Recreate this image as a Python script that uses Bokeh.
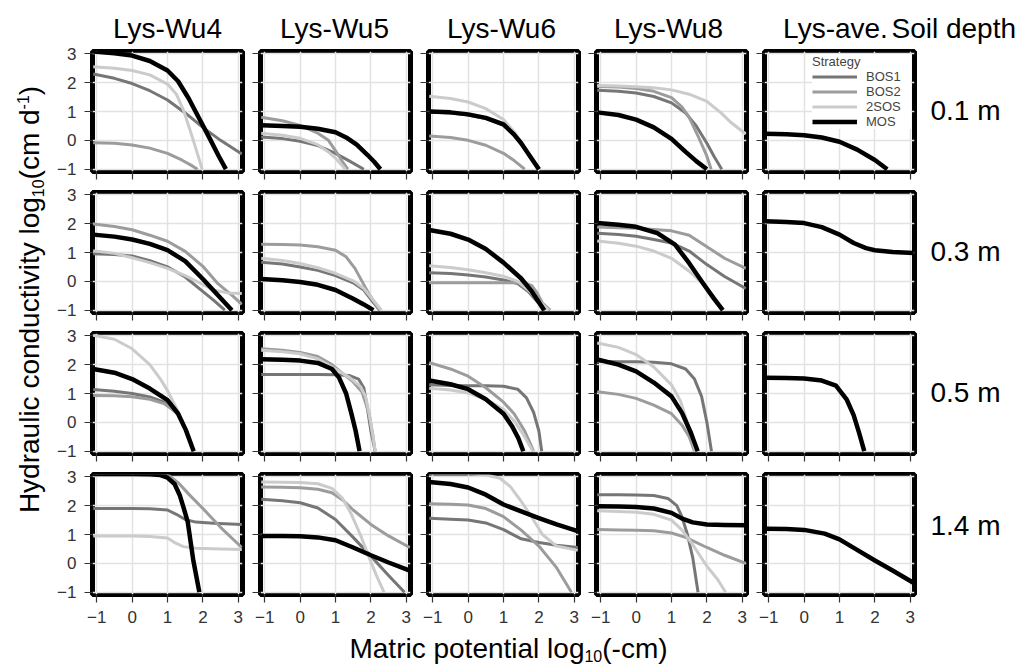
from math import pi

from bokeh.core.properties import value
from bokeh.embed import file_html
from bokeh.layouts import column, row
from bokeh.models import (ColumnDataSource, CustomLabelingPolicy, FixedTicker, Legend,
                          LegendItem, Range1d)
from bokeh.plotting import figure
from bokeh.resources import INLINE

# ---------------------------------------------------------------------------
# Facets, strategies and ticks
# ---------------------------------------------------------------------------
sites = ["Lys-Wu4", "Lys-Wu5", "Lys-Wu6", "Lys-Wu8", "Lys-ave."]
depths = ["0.1 m", "0.3 m", "0.5 m", "1.4 m"]
strategies = ["BOS1", "BOS2", "2SOS", "MOS"]
x_ticks = [-1, 0, 1, 2, 3]
y_ticks = [-1, 0, 1, 2, 3]
tick_text = {-1: "\u22121", 0: "0", 1: "1", 2: "2", 3: "3"}

# ---------------------------------------------------------------------------
# Conductivity curves: (log10 matric potential, log10 K) pairs
# ---------------------------------------------------------------------------
# depth 0.1 m
wu4_d01_bos1 = [(-1.1, 2.30), (-0.5, 2.15), (0, 1.97), (0.5, 1.72), (1.0, 1.40), (1.5, 0.95), (2.0, 0.45), (2.5, 0.00), (3.1, -0.47)]
wu4_d01_bos2 = [(-1.1, -0.08), (-0.5, -0.10), (0, -0.16), (0.5, -0.27), (1.0, -0.45), (1.4, -0.68), (1.65, -0.85), (1.85, -1.0)]
wu4_d01_2sos = [(-1.1, 2.55), (-0.5, 2.50), (0, 2.42), (0.5, 2.27), (1.0, 1.95), (1.25, 1.60), (1.45, 1.05), (1.6, 0.50), (1.73, 0.00), (1.88, -0.60), (1.98, -1.0)]
wu4_d01_mos = [(-1.1, 3.08), (-0.5, 3.02), (0, 2.94), (0.5, 2.75), (1.0, 2.42), (1.3, 2.05), (1.6, 1.45), (1.9, 0.75), (2.2, 0.05), (2.45, -0.55), (2.65, -1.0)]

wu5_d01_bos1 = [(-1.1, 0.12), (-0.5, 0.06), (0, -0.03), (0.5, -0.18), (1.0, -0.45), (1.4, -0.72), (1.8, -1.0)]
wu5_d01_bos2 = [(-1.1, 0.80), (-0.5, 0.68), (0, 0.52), (0.5, 0.25), (0.8, 0.00), (1.05, -0.45), (1.2, -0.75), (1.35, -1.0)]
wu5_d01_2sos = [(-1.1, 0.25), (-0.5, 0.18), (0, 0.07), (0.5, -0.15), (0.8, -0.40), (1.0, -0.62), (1.28, -1.0)]
wu5_d01_mos = [(-1.1, 0.52), (-0.5, 0.50), (0, 0.47), (0.5, 0.40), (1.0, 0.28), (1.3, 0.10), (1.6, -0.15), (1.9, -0.50), (2.1, -0.75), (2.27, -1.0)]

wu6_d01_bos1 = [(-1.1, 0.98), (-0.5, 0.95), (0, 0.88), (0.5, 0.76), (1.0, 0.52), (1.3, 0.18), (1.5, -0.12), (1.75, -0.55), (2.02, -1.0)]
wu6_d01_bos2 = [(-1.1, 0.15), (-0.5, 0.10), (0, 0.00), (0.5, -0.17), (1.0, -0.45), (1.3, -0.70), (1.6, -1.0)]
wu6_d01_2sos = [(-1.1, 1.53), (-0.5, 1.45), (0, 1.33), (0.5, 1.10), (1.0, 0.72), (1.3, 0.30), (1.55, -0.15), (1.8, -0.65), (1.97, -1.0)]
wu6_d01_mos = [(-1.1, 1.00), (-0.5, 0.97), (0, 0.90), (0.5, 0.78), (1.0, 0.55), (1.3, 0.20), (1.5, -0.10), (1.75, -0.55), (2.0, -1.0)]

wu8_d01_bos1 = [(-1.1, 1.74), (-0.5, 1.70), (0, 1.64), (0.5, 1.52), (1.0, 1.30), (1.4, 0.95), (1.7, 0.50), (2.0, -0.10), (2.2, -0.55), (2.42, -1.0)]
wu8_d01_bos2 = [(-1.1, 1.87), (-0.5, 1.85), (0, 1.80), (0.5, 1.70), (1.0, 1.48), (1.3, 1.15), (1.5, 0.80), (1.75, 0.15), (2.0, -0.55), (2.12, -1.0)]
wu8_d01_2sos = [(-1.1, 1.90), (-0.5, 1.88), (0, 1.86), (0.5, 1.82), (1.0, 1.75), (1.5, 1.60), (2.0, 1.35), (2.4, 0.95), (2.7, 0.60), (3.1, 0.22)]
wu8_d01_mos = [(-1.1, 0.97), (-0.5, 0.88), (0, 0.72), (0.5, 0.45), (1.0, 0.05), (1.4, -0.40), (1.7, -0.72), (2.0, -1.0)]

ave_d01_mos = [(-1.1, 0.23), (-0.5, 0.21), (0, 0.18), (0.5, 0.10), (1.0, -0.05), (1.5, -0.32), (2.0, -0.68), (2.35, -1.0)]

# depth 0.3 m
wu4_d03_bos1 = [(-1.1, 0.96), (-0.5, 0.93), (0, 0.88), (0.5, 0.72), (1.0, 0.50), (1.5, 0.15), (1.9, -0.25), (2.3, -0.65), (2.62, -1.0)]
wu4_d03_bos2 = [(-1.1, 1.99), (-0.5, 1.90), (0, 1.79), (0.5, 1.60), (1.0, 1.39), (1.5, 1.04), (2.0, 0.52), (2.4, -0.05), (2.85, -0.51), (3.1, -0.80)]
wu4_d03_2sos = [(-1.1, 1.06), (-0.5, 0.97), (0, 0.82), (0.5, 0.65), (1.0, 0.45), (1.5, 0.20), (1.9, -0.05), (2.3, -0.30), (2.7, -0.40), (3.1, -0.42)]
wu4_d03_mos = [(-1.1, 1.62), (-0.5, 1.55), (0, 1.45), (0.5, 1.30), (1.0, 1.08), (1.5, 0.70), (2.0, 0.08), (2.4, -0.45), (2.82, -1.0)]

wu5_d03_bos1 = [(-1.1, 0.66), (-0.5, 0.60), (0, 0.50), (0.5, 0.38), (1.0, 0.20), (1.5, -0.05), (1.8, -0.30), (2.05, -0.70), (2.25, -1.0)]
wu5_d03_bos2 = [(-1.1, 1.29), (-0.5, 1.28), (0, 1.26), (0.5, 1.20), (1.0, 1.08), (1.3, 0.85), (1.55, 0.45), (1.75, 0.00), (1.95, -0.45), (2.25, -1.0)]
wu5_d03_2sos = [(-1.1, 0.80), (-0.5, 0.72), (0, 0.62), (0.5, 0.47), (1.0, 0.28), (1.5, 0.02), (1.8, -0.25), (2.1, -0.70), (2.3, -1.0)]
wu5_d03_mos = [(-1.1, 0.08), (-0.5, 0.04), (0, -0.02), (0.5, -0.12), (1.0, -0.30), (1.5, -0.60), (1.8, -0.80), (2.07, -1.0)]

wu6_d03_bos1 = [(-1.1, 0.30), (-0.5, 0.27), (0, 0.22), (0.5, 0.15), (1.0, 0.05), (1.4, -0.08), (1.7, -0.35), (1.95, -0.70), (2.18, -1.0)]
wu6_d03_bos2 = [(-1.1, -0.05), (-0.5, -0.05), (0, -0.05), (0.5, -0.05), (1.0, -0.05), (1.4, -0.05), (1.6, -0.05), (1.8, -0.15), (1.95, -0.40), (2.1, -0.75), (2.32, -1.0)]
wu6_d03_2sos = [(-1.1, 0.54), (-0.5, 0.48), (0, 0.40), (0.5, 0.30), (1.0, 0.18), (1.4, 0.00), (1.7, -0.30), (1.95, -0.62), (2.28, -1.0)]
wu6_d03_mos = [(-1.1, 1.78), (-0.5, 1.65), (0, 1.45), (0.5, 1.12), (1.0, 0.65), (1.5, 0.10), (1.8, -0.35), (2.15, -1.0)]

wu8_d03_bos1 = [(-1.1, 1.67), (-0.5, 1.62), (0, 1.56), (0.5, 1.45), (1.0, 1.33), (1.5, 1.05), (2.0, 0.58), (2.5, 0.17), (3.1, -0.25)]
wu8_d03_bos2 = [(-1.1, 1.88), (-0.5, 1.86), (0, 1.84), (0.5, 1.80), (1.0, 1.75), (1.5, 1.60), (2.0, 1.20), (2.5, 0.80), (3.1, 0.45)]
wu8_d03_2sos = [(-1.1, 1.40), (-0.5, 1.32), (0, 1.22), (0.5, 1.05), (1.0, 0.80), (1.5, 0.35), (1.9, -0.10), (2.2, -0.55), (2.45, -1.0)]
wu8_d03_mos = [(-1.1, 2.02), (-0.5, 1.96), (0, 1.89), (0.6, 1.67), (1.1, 1.27), (1.5, 0.63), (1.88, -0.05), (2.2, -0.60), (2.45, -1.0)]

ave_d03_mos = [(-1.1, 2.08), (-0.5, 2.06), (0, 2.02), (0.5, 1.88), (1.0, 1.62), (1.4, 1.33), (1.75, 1.15), (2.0, 1.08), (2.5, 1.02), (3.1, 0.98)]

# depth 0.5 m
wu4_d05_bos1 = [(-1.1, 1.14), (-0.5, 1.08), (0, 1.00), (0.5, 0.88), (0.9, 0.70), (1.1, 0.50), (1.3, 0.28), (1.52, -0.27), (1.74, -1.0)]
wu4_d05_bos2 = [(-1.1, 0.93), (-0.5, 0.92), (0, 0.89), (0.5, 0.80), (0.9, 0.65), (1.1, 0.48), (1.3, 0.28), (1.52, -0.27), (1.74, -1.0)]
wu4_d05_2sos = [(-1.1, 3.02), (-0.5, 2.88), (0, 2.55), (0.5, 2.00), (0.8, 1.50), (1.0, 1.10), (1.25, 0.50), (1.5, -0.20), (1.74, -1.0)]
wu4_d05_mos = [(-1.1, 1.85), (-0.5, 1.72), (0, 1.50), (0.5, 1.17), (1.0, 0.77), (1.3, 0.30), (1.52, -0.27), (1.74, -1.0)]

wu5_d05_bos1 = [(-1.1, 1.66), (-0.5, 1.66), (0, 1.66), (0.5, 1.66), (1.0, 1.65), (1.4, 1.62), (1.65, 1.50), (1.8, 1.20), (1.9, 0.50), (2.0, -0.30), (2.12, -1.0)]
wu5_d05_bos2 = [(-1.1, 2.55), (-0.5, 2.50), (0, 2.42), (0.5, 2.28), (0.9, 2.00), (1.2, 1.70), (1.5, 1.40), (1.75, 1.05), (1.95, 0.30), (2.05, -0.40), (2.12, -1.0)]
wu5_d05_2sos = [(-1.1, 2.50), (-0.5, 2.45), (0, 2.38), (0.5, 2.20), (1.0, 1.85), (1.4, 1.55), (1.7, 1.25), (1.85, 0.90), (1.95, 0.30), (2.05, -0.40), (2.12, -1.0)]
wu5_d05_mos = [(-1.1, 2.19), (-0.5, 2.17), (0, 2.14), (0.5, 2.06), (0.9, 1.85), (1.1, 1.55), (1.3, 1.00), (1.45, 0.30), (1.57, -0.30), (1.68, -1.0)]

wu6_d05_bos1 = [(-1.1, 1.30), (-0.5, 1.28), (0, 1.27), (0.5, 1.27), (1.0, 1.25), (1.4, 1.15), (1.65, 0.85), (1.85, 0.35), (2.0, -0.30), (2.08, -1.0)]
wu6_d05_bos2 = [(-1.1, 2.07), (-0.5, 1.85), (0, 1.60), (0.5, 1.20), (1.0, 0.70), (1.3, 0.30), (1.6, -0.30), (1.85, -1.0)]
wu6_d05_2sos = [(-1.1, 1.18), (-0.5, 1.12), (0, 1.02), (0.5, 0.80), (1.0, 0.45), (1.3, 0.05), (1.55, -0.40), (1.83, -1.0)]
wu6_d05_mos = [(-1.1, 1.45), (-0.5, 1.32), (0, 1.15), (0.5, 0.80), (1.0, 0.30), (1.25, -0.15), (1.42, -0.55), (1.56, -1.0)]

wu8_d05_bos1 = [(-1.1, 2.12), (-0.5, 2.10), (0, 2.10), (0.5, 2.08), (1.0, 2.03), (1.4, 1.85), (1.65, 1.50), (1.85, 0.90), (2.0, 0.00), (2.13, -1.0)]
wu8_d05_bos2 = [(-1.1, 1.06), (-0.5, 0.97), (0, 0.83), (0.5, 0.60), (1.0, 0.30), (1.3, -0.10), (1.5, -0.50), (1.65, -1.0)]
wu8_d05_2sos = [(-1.1, 2.75), (-0.5, 2.60), (0, 2.35), (0.5, 1.92), (1.0, 1.30), (1.25, 0.75), (1.45, 0.00), (1.68, -1.0)]
wu8_d05_mos = [(-1.1, 2.18), (-0.5, 2.00), (0, 1.77), (0.5, 1.38), (1.0, 0.90), (1.3, 0.32), (1.55, -0.37), (1.74, -1.0)]

ave_d05_mos = [(-1.1, 1.55), (-0.5, 1.54), (0, 1.52), (0.5, 1.45), (0.9, 1.27), (1.2, 0.80), (1.4, 0.25), (1.55, -0.35), (1.7, -1.0)]

# depth 1.4 m
wu4_d14_bos1 = [(-1.1, 1.90), (-0.5, 1.90), (0, 1.90), (0.5, 1.89), (1.0, 1.85), (1.25, 1.70), (1.5, 1.52), (1.8, 1.43), (2.3, 1.39), (3.1, 1.35)]
wu4_d14_bos2 = [(-1.1, 3.12), (0, 3.12), (0.8, 3.12), (1.0, 3.08), (1.3, 2.80), (1.6, 2.40), (2.0, 1.90), (2.5, 1.25), (3.1, 0.55)]
wu4_d14_2sos = [(-1.1, 0.95), (-0.5, 0.95), (0, 0.95), (0.5, 0.93), (1.0, 0.88), (1.2, 0.72), (1.45, 0.58), (1.8, 0.52), (2.5, 0.50), (3.1, 0.48)]
wu4_d14_mos = [(-1.1, 3.10), (0, 3.10), (0.5, 3.09), (0.8, 3.06), (1.0, 2.97), (1.2, 2.75), (1.35, 2.35), (1.45, 1.95), (1.57, 1.45), (1.73, 0.10), (1.9, -1.0)]

wu5_d14_bos1 = [(-1.1, 2.22), (-0.5, 2.17), (0, 2.10), (0.5, 1.92), (1.0, 1.52), (1.5, 0.90), (2.0, 0.25), (2.5, -0.42), (2.95, -1.0)]
wu5_d14_bos2 = [(-1.1, 2.65), (-0.5, 2.64), (0, 2.62), (0.5, 2.57), (0.9, 2.45), (1.2, 2.20), (1.5, 1.85), (2.0, 1.35), (2.5, 0.95), (3.1, 0.55)]
wu5_d14_2sos = [(-1.1, 2.82), (-0.5, 2.81), (0, 2.80), (0.5, 2.76), (0.9, 2.60), (1.2, 2.25), (1.45, 1.70), (1.7, 1.00), (1.95, 0.20), (2.15, -0.40), (2.37, -1.0)]
wu5_d14_mos = [(-1.1, 0.95), (-0.5, 0.95), (0, 0.94), (0.5, 0.90), (1.0, 0.80), (1.5, 0.55), (2.0, 0.28), (2.5, 0.03), (3.1, -0.25)]

wu6_d14_bos1 = [(-1.1, 1.56), (-0.5, 1.53), (0, 1.50), (0.5, 1.40), (1.0, 1.17), (1.5, 0.85), (2.0, 0.72), (2.5, 0.63), (3.1, 0.55)]
wu6_d14_bos2 = [(-1.1, 2.07), (-0.5, 2.05), (0, 2.02), (0.5, 1.90), (1.0, 1.62), (1.5, 1.15), (2.0, 0.60), (2.5, -0.15), (2.92, -1.0)]
wu6_d14_2sos = [(-1.1, 3.10), (0, 3.10), (0.5, 3.07), (0.9, 2.95), (1.2, 2.65), (1.5, 2.15), (1.8, 1.60), (2.1, 1.00), (2.5, 0.60), (3.1, 0.45)]
wu6_d14_mos = [(-1.1, 2.82), (-0.5, 2.75), (0, 2.63), (0.5, 2.38), (1.0, 2.04), (1.5, 1.80), (2.0, 1.57), (2.5, 1.35), (3.1, 1.12)]

wu8_d14_bos1 = [(-1.1, 2.38), (-0.5, 2.38), (0, 2.37), (0.5, 2.35), (0.9, 2.25), (1.15, 2.00), (1.3, 1.60), (1.45, 1.00), (1.6, 0.20), (1.75, -1.0)]
wu8_d14_bos2 = [(-1.1, 1.17), (-0.5, 1.16), (0, 1.15), (0.5, 1.13), (1.0, 1.05), (1.4, 0.90), (2.0, 0.55), (2.5, 0.28), (3.1, 0.00)]
wu8_d14_2sos = [(-1.1, 1.82), (-0.5, 1.80), (0, 1.77), (0.5, 1.70), (1.0, 1.50), (1.3, 1.15), (1.6, 0.65), (2.0, -0.10), (2.3, -0.55), (2.53, -1.0)]
wu8_d14_mos = [(-1.1, 1.98), (-0.5, 1.97), (0, 1.95), (0.5, 1.90), (1.0, 1.75), (1.3, 1.55), (1.6, 1.42), (2.0, 1.35), (2.5, 1.33), (3.1, 1.32)]

ave_d14_mos = [(-1.1, 1.20), (-0.5, 1.19), (0, 1.16), (0.58, 1.03), (1.0, 0.83), (1.45, 0.50), (2.0, 0.10), (2.5, -0.25), (3.1, -0.68)]

# (site, depth) -> {strategy: curve}
curves = {
    ("Lys-Wu4", "0.1 m"): {"BOS1": wu4_d01_bos1, "BOS2": wu4_d01_bos2, "2SOS": wu4_d01_2sos, "MOS": wu4_d01_mos},
    ("Lys-Wu5", "0.1 m"): {"BOS1": wu5_d01_bos1, "BOS2": wu5_d01_bos2, "2SOS": wu5_d01_2sos, "MOS": wu5_d01_mos},
    ("Lys-Wu6", "0.1 m"): {"BOS1": wu6_d01_bos1, "BOS2": wu6_d01_bos2, "2SOS": wu6_d01_2sos, "MOS": wu6_d01_mos},
    ("Lys-Wu8", "0.1 m"): {"BOS1": wu8_d01_bos1, "BOS2": wu8_d01_bos2, "2SOS": wu8_d01_2sos, "MOS": wu8_d01_mos},
    ("Lys-ave.", "0.1 m"): {"MOS": ave_d01_mos},
    ("Lys-Wu4", "0.3 m"): {"BOS1": wu4_d03_bos1, "BOS2": wu4_d03_bos2, "2SOS": wu4_d03_2sos, "MOS": wu4_d03_mos},
    ("Lys-Wu5", "0.3 m"): {"BOS1": wu5_d03_bos1, "BOS2": wu5_d03_bos2, "2SOS": wu5_d03_2sos, "MOS": wu5_d03_mos},
    ("Lys-Wu6", "0.3 m"): {"BOS1": wu6_d03_bos1, "BOS2": wu6_d03_bos2, "2SOS": wu6_d03_2sos, "MOS": wu6_d03_mos},
    ("Lys-Wu8", "0.3 m"): {"BOS1": wu8_d03_bos1, "BOS2": wu8_d03_bos2, "2SOS": wu8_d03_2sos, "MOS": wu8_d03_mos},
    ("Lys-ave.", "0.3 m"): {"MOS": ave_d03_mos},
    ("Lys-Wu4", "0.5 m"): {"BOS1": wu4_d05_bos1, "BOS2": wu4_d05_bos2, "2SOS": wu4_d05_2sos, "MOS": wu4_d05_mos},
    ("Lys-Wu5", "0.5 m"): {"BOS1": wu5_d05_bos1, "BOS2": wu5_d05_bos2, "2SOS": wu5_d05_2sos, "MOS": wu5_d05_mos},
    ("Lys-Wu6", "0.5 m"): {"BOS1": wu6_d05_bos1, "BOS2": wu6_d05_bos2, "2SOS": wu6_d05_2sos, "MOS": wu6_d05_mos},
    ("Lys-Wu8", "0.5 m"): {"BOS1": wu8_d05_bos1, "BOS2": wu8_d05_bos2, "2SOS": wu8_d05_2sos, "MOS": wu8_d05_mos},
    ("Lys-ave.", "0.5 m"): {"MOS": ave_d05_mos},
    ("Lys-Wu4", "1.4 m"): {"BOS1": wu4_d14_bos1, "BOS2": wu4_d14_bos2, "2SOS": wu4_d14_2sos, "MOS": wu4_d14_mos},
    ("Lys-Wu5", "1.4 m"): {"BOS1": wu5_d14_bos1, "BOS2": wu5_d14_bos2, "2SOS": wu5_d14_2sos, "MOS": wu5_d14_mos},
    ("Lys-Wu6", "1.4 m"): {"BOS1": wu6_d14_bos1, "BOS2": wu6_d14_bos2, "2SOS": wu6_d14_2sos, "MOS": wu6_d14_mos},
    ("Lys-Wu8", "1.4 m"): {"BOS1": wu8_d14_bos1, "BOS2": wu8_d14_bos2, "2SOS": wu8_d14_2sos, "MOS": wu8_d14_mos},
    ("Lys-ave.", "1.4 m"): {"MOS": ave_d14_mos},
}

# ---------------------------------------------------------------------------
# Styling and page geometry (pixels)
# ---------------------------------------------------------------------------
FONT = "Liberation Sans"
LINE_COLORS = {"BOS1": "#767676", "BOS2": "#9c9c9c", "2SOS": "#cbcbcb", "MOS": "#000000"}
LINE_WIDTHS = {"BOS1": 3, "BOS2": 3, "2SOS": 3, "MOS": 4.5}
TICK_COLOR = "#333333"
GRID_COLOR = "#e2e2e2"
BIG, SMALL = 28, 16
BASELINE_FIX = 0.29  # text glyphs sit this many ems below the requested baseline

TOTAL_W, TOTAL_H = 1034, 664
YTITLE_W = 54
TOP_STRIP_H = 45
XTITLE_H = 33
FRAME_W, FRAME_H = 150, 120
PAD_LEFT = [38, 11, 11, 11, 11]
PAD_RIGHT = [6, 6, 6, 6, 6]
PAD_TOP = [6, 8, 8, 8]
PAD_BOTTOM = [13, 13, 13, 37]
RSTRIP_W = TOTAL_W - YTITLE_W - sum(PAD_LEFT) - sum(PAD_RIGHT) - len(sites) * FRAME_W

# frame left edges on the page, used to centre the column headings
frame_left = []
_x = YTITLE_W
for _ci in range(len(sites)):
    frame_left.append(_x + PAD_LEFT[_ci])
    _x += PAD_LEFT[_ci] + FRAME_W + PAD_RIGHT[_ci]
RSTRIP_X0 = _x

HIDE_LABELS = "for (const i of indices) indices.unset(i); return indices;"


def blank_figure(w, h):
    p = figure(width=w, height=h, x_range=Range1d(0, w), y_range=Range1d(0, h),
               min_border=0, toolbar_location=None, title_location=None,
               x_axis_location=None, y_axis_location=None, output_backend="svg",
               outline_line_color=None, background_fill_color="white", border_fill_color="white")
    p.grid.visible = False
    return p


def style_axis(axis, ticks, show_labels):
    axis.ticker = FixedTicker(ticks=ticks)
    axis.axis_line_color = None
    axis.major_tick_in = 0
    axis.major_tick_out = 8
    axis.minor_tick_in = 0
    axis.minor_tick_out = 0
    axis.major_tick_line_color = TICK_COLOR
    axis.major_tick_line_width = 1.2
    if show_labels:
        axis.major_label_overrides = dict(tick_text)
        axis.major_label_text_font = FONT
        axis.major_label_text_font_size = "17px"
        axis.major_label_text_color = TICK_COLOR
        axis.major_label_standoff = 8
    else:
        # tick marks only; the labels live on the outer panels
        axis.major_label_text_font_size = "1px"
        axis.major_label_policy = CustomLabelingPolicy(code=HIDE_LABELS)
        axis.major_label_standoff = 0


def make_panel(ci, ri):
    site, depth = sites[ci], depths[ri]
    p = figure(frame_width=FRAME_W, frame_height=FRAME_H,
               x_range=Range1d(-1.12, 3.12), y_range=Range1d(-1.08, 3.08),
               min_border_left=PAD_LEFT[ci], min_border_right=PAD_RIGHT[ci],
               min_border_top=PAD_TOP[ri], min_border_bottom=PAD_BOTTOM[ri],
               toolbar_location=None, title_location=None, output_backend="svg",
               background_fill_color="white", border_fill_color="white")
    p.outline_line_color = "black"
    p.outline_line_width = 5
    p.outline_line_alpha = 1.0
    style_axis(p.xaxis[0], x_ticks, ri == len(depths) - 1)
    style_axis(p.yaxis[0], y_ticks, ci == 0)
    p.xgrid.grid_line_color = GRID_COLOR
    p.ygrid.grid_line_color = GRID_COLOR
    p.xgrid.grid_line_width = 1.5
    p.ygrid.grid_line_width = 1.5

    renderers = {}
    panel_curves = curves[(site, depth)]
    for s in strategies:
        pts = panel_curves.get(s)
        if pts is None:
            # strategy absent from this facet: a single NaN keeps a legend key without drawing
            xs, ys = [float("nan")], [float("nan")]
        else:
            xs, ys = [pt[0] for pt in pts], [pt[1] for pt in pts]
        src = ColumnDataSource(data=dict(x=xs, y=ys))
        renderers[s] = p.line("x", "y", source=src, line_color=LINE_COLORS[s],
                              line_width=LINE_WIDTHS[s], line_join="round")

    if ri == 0 and ci == len(sites) - 1:
        legend = Legend(
            items=[LegendItem(label=s, renderers=[renderers[s]]) for s in strategies],
            title="Strategy", location="top_right", orientation="vertical",
            title_text_font=FONT, title_text_font_size="13px", title_text_font_style="normal",
            title_standoff=0,
            label_text_font=FONT, label_text_font_size="13px",
            label_width=45, glyph_width=45, glyph_height=11, label_height=11, label_standoff=9,
            spacing=0, padding=1, margin=3,
            background_fill_color="white", background_fill_alpha=1.0,
            border_line_color=None)
        p.add_layout(legend)
    return p


def depth_strip(ri):
    h = PAD_TOP[ri] + FRAME_H + PAD_BOTTOM[ri]
    p = blank_figure(RSTRIP_W, h)
    p.text(x=[926 - RSTRIP_X0], y=[PAD_BOTTOM[ri] + FRAME_H / 2 - 10 + BASELINE_FIX * BIG],
           text=[depths[ri]], text_align="left", text_baseline="alphabetic",
           text_font=value(FONT), text_font_size=f"{BIG}px", text_color="black")
    return p


# column headings and the strip heading
top_w = TOTAL_W - YTITLE_W
top = blank_figure(top_w, TOP_STRIP_H)
head_y = TOP_STRIP_H - 36 + BASELINE_FIX * BIG
top.text(x=[frame_left[ci] + FRAME_W / 2 - YTITLE_W for ci in range(len(sites))],
         y=[head_y] * len(sites), text=sites, text_align="center", text_baseline="alphabetic",
         text_font=value(FONT), text_font_size=f"{BIG}px", text_color="black")
top.text(x=[891 - YTITLE_W], y=[head_y], text=["Soil depth"], text_align="left",
         text_baseline="alphabetic", text_font=value(FONT), text_font_size=f"{BIG}px",
         text_color="black")

grid_rows = []
for ri in range(len(depths)):
    grid_rows.append(row([make_panel(ci, ri) for ci in range(len(sites))] + [depth_strip(ri)],
                         spacing=0))

# y-axis title (rotated, with subscript and superscript pieces)
ytitle = blank_figure(YTITLE_W, TOTAL_H)
em_y = {"Hydraulic conductivity log": 11.281, "10": 1.112, "(cm d": 2.5, "-1": 0.889, ")": 0.333}
y_parts = [("Hydraulic conductivity log", BIG, 0), ("10", SMALL, 5), ("(cm d", BIG, 0),
           ("-1", SMALL, -10), (")", BIG, 0)]
y_len = sum(em_y[t] * fs for t, fs, _ in y_parts)
base_x = 36.7
cursor = (TOTAL_H - 299) - y_len / 2
for t, fs, shift in y_parts:
    ytitle.text(x=[base_x + shift - BASELINE_FIX * fs], y=[cursor], text=[t], angle=pi / 2,
                text_align="left", text_baseline="alphabetic",
                text_font=value(FONT), text_font_size=f"{fs}px", text_color="black")
    cursor += em_y[t] * fs

# x-axis title
xtitle = blank_figure(top_w, XTITLE_H)
em_x = {"Matric potential log": 8.392, "10": 1.112, "(-cm)": 2.332}
x_parts = [("Matric potential log", BIG, 0), ("10", SMALL, -4), ("(-cm)", BIG, 0)]
x_len = sum(em_x[t] * fs for t, fs, _ in x_parts)
cursor = (508 - YTITLE_W) - x_len / 2
base_y = XTITLE_H - (655.8 - (TOTAL_H - XTITLE_H))
for t, fs, shift in x_parts:
    xtitle.text(x=[cursor], y=[base_y + shift + BASELINE_FIX * fs], text=[t],
                text_align="left", text_baseline="alphabetic",
                text_font=value(FONT), text_font_size=f"{fs}px", text_color="black")
    cursor += em_x[t] * fs

layout = row(ytitle, column(top, *grid_rows, xtitle, spacing=0), spacing=0)

with open("out.html", "w") as fh:
    fh.write(file_html(layout, INLINE, title="Hydraulic conductivity curves"))
